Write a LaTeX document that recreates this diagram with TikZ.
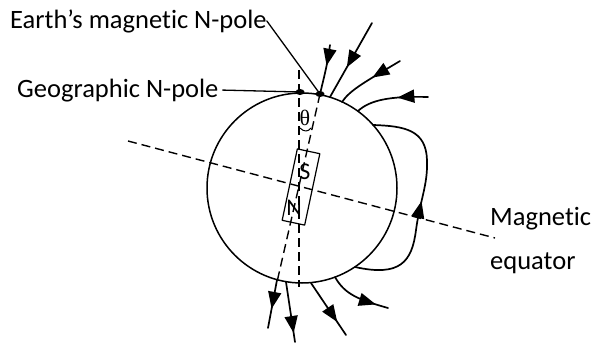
\documentclass[tikz,border=0pt]{standalone}
\usepackage{fontspec}
\setmainfont{Carlito}[Ligatures=NoCommon]
\newfontfamily\greekfont{Liberation Serif}
\usetikzlibrary{arrows.meta,decorations.markings}

\begin{document}
\begin{tikzpicture}[x=1pt, y=-1pt, line join=round, line cap=round,
        every node/.style={font=\fontsize{26.5}{32}\selectfont, inner sep=0pt},
        axis/.style={line width=1.4pt, line cap=butt, dash pattern=on 9pt off 5pt},
        field/.style={line width=1.7pt},
        flow/.style={postaction={decorate}, decoration={markings,
            mark=at position #1 with {\arrow{Triangle[length=17pt,width=13pt]}}}}]
        \useasboundingbox (0,0) rectangle (603,343);

        \coordinate (ctr) at (302,188);
        \coordinate (gp) at (300,92);
        \coordinate (mp) at (320,94);

        % the earth, its axes and the equator
        \draw[line width=1.5pt] (ctr) circle (95);
        \draw[axis] (299,70) -- (299,287);
        \draw[axis] (mp) -- (277,282);
        \draw[axis] (128,141) -- (495,238);

        % bar magnet inside
        \node[draw, line width=1.2pt, rotate=-12, minimum width=23pt, minimum height=73pt] (magnet) at (301,187) {};
        \node[font=\fontsize{24}{24}\selectfont] (s) at (305,172) {S};
        \node[font=\fontsize{24}{24}\selectfont] (n) at (294,208) {N};

        % angle between the two axes
        \node (theta) at (305,118) {\greekfont\fontsize{22}{22}\selectfont θ};
        \draw[line width=1pt] (300,128) .. controls (304,132) and (308,132) .. (311,128);

        % poles
        \fill (gp) ellipse (4.5 and 3);
        \fill (mp) ellipse (4.5 and 3);

        \node[anchor=base west] (mlabel) at (10,28) {Earth’s magnetic N-pole};
        \node[anchor=base west] (glabel) at (17,97) {Geographic N-pole};
        \draw[line width=1.3pt] (mlabel.east) -- (mp);
        \draw[line width=1.3pt] ([xshift=4pt]glabel.east) -- (gp);

        \node[anchor=base west] (eqa) at (490,225) {Magnetic};
        \node[anchor=base west] (eqb) at (490,269) {equator};

        % field lines going in at the top
        \draw[field, flow=0.42] (330,45) .. controls (327,65) .. (mp);
        \draw[field, flow=0.6] (372,23) -- (330,97);
        \draw[field, flow=0.45] (400,61) .. controls (365,82) and (350,90) .. (342,102);
        \draw[field, flow=0.42] (428,97) .. controls (390,96) and (370,100) .. (358,111);

        % closed loop on the right
        \draw[field, flow=0.5] (355,267) .. controls (400,277) and (412,262) .. (416,230)
            .. controls (420,200) and (428,185) .. (427,160)
            .. controls (426,130) and (405,126) .. (373,125);

        % field lines coming out at the bottom
        \draw[field, flow=0.6] (277,280) -- (268,328);
        \draw[field, flow=0.85] (286,282) -- (295,342);
        \draw[field, flow=0.75] (311,283) -- (346,335);
        \draw[field, flow=0.8] (335,277) .. controls (345,295) and (360,300) .. (388,308);
\end{tikzpicture}
\end{document}
